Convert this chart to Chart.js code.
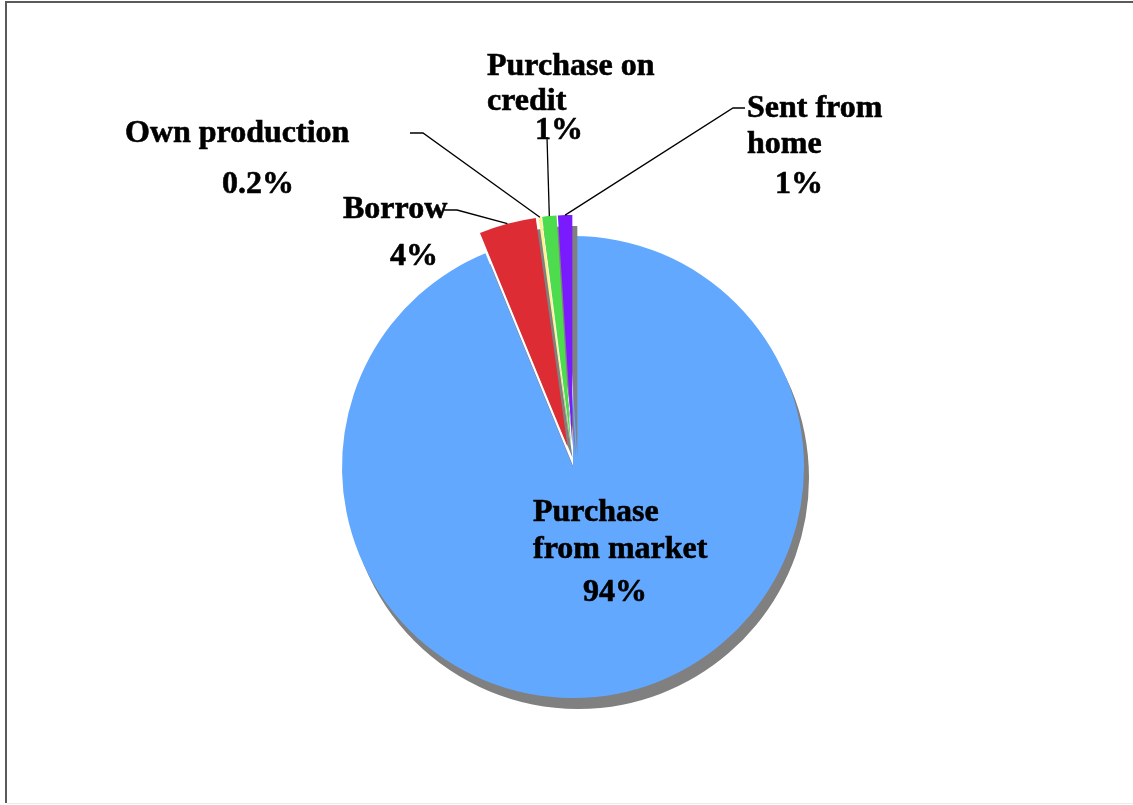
<!DOCTYPE html>
<html>

  <head>
    <meta charset="utf-8">
    <title>Food source</title>
    <script src="https://cdn.jsdelivr.net/npm/chart.js@4.4.1/dist/chart.umd.min.js"></script>
    <style>
      html,
      body {
        margin: 0;
        padding: 0;
        background: #fff;
      }

      canvas {
        display: block;
      }
    </style>
  </head>

  <body>
    <canvas id="myChart" width="1133" height="805"></canvas>

    <script>
      // data
      const categories = ['Purchase from market', 'Borrow', 'Own production', 'Purchase on credit', 'Sent from home'];
      const values = [94, 4, 0.2, 1, 1];
      const pctLabels = ['94%', '4%', '0.2%', '1%', '1%'];

      const colors = ['#63a8ff', '#dd2c33', '#fff28c', '#4ddc4d', '#7a1aff'];
      // how far each slice is pulled out of the pie (px)
      const explode = [0, 21, 21, 21, 21];

      // where the label lines go (left x, baseline y) and the leader line elbows
      const labelLayout = [
        { lines: [['Purchase', 533, 521], ['from market', 533, 558]], pct: [583, 601], leader: null },
        { lines: [['Borrow', 343, 218]], pct: [390, 265], leader: [[443, 210], [457, 210]] },
        { lines: [['Own production', 125, 142]], pct: [222, 193], leader: [[410, 133], [423, 133]] },
        { lines: [['Purchase on', 487, 75], ['credit', 487, 110]], pct: [535, 139], leader: [[547, 137]] },
        { lines: [['Sent from', 747, 117], ['home', 747, 153]], pct: [775, 193], leader: [[745, 108], [733, 108]] },
      ];

      // pull slices out along their bisector
      const explodePlugin = {
        id: 'explode',
        afterDatasetUpdate(chart, args) {
          const meta = args.meta;
          meta.data.forEach((arc, i) => {
            const d = explode[i] || 0;
            if (!d) return;
            const mid = (arc.startAngle + arc.endAngle) / 2;
            arc.x += Math.cos(mid) * d;
            arc.y += Math.sin(mid) * d;
          });
        }
      };

      // gray drop shadow under the slices
      const shadowPlugin = {
        id: 'pieShadow',
        beforeDatasetsDraw(chart) {
          const ctx = chart.ctx;
          ctx.save();
          ctx.shadowColor = '#808080';
          ctx.shadowOffsetX = 5;
          ctx.shadowOffsetY = 11;
          ctx.shadowBlur = 0;
        },
        afterDatasetsDraw(chart) {
          chart.ctx.restore();
        }
      };

      // frame, labels and leader lines
      const labelPlugin = {
        id: 'labels',
        beforeDraw(chart) {
          const ctx = chart.ctx;
          ctx.save();
          ctx.fillStyle = '#5a5a5a';
          ctx.fillRect(5, 1, chart.width - 5, 2);
          ctx.fillRect(5, 1, 2, 802);
          ctx.fillStyle = '#ececec';
          ctx.fillRect(7, 803, chart.width - 7, 1);
          ctx.restore();
        },
        afterDraw(chart) {
          const ctx = chart.ctx;
          const arcs = chart.getDatasetMeta(0).data;
          ctx.save();
          ctx.strokeStyle = '#000';
          ctx.lineWidth = 1.3;
          labelLayout.forEach((lay, i) => {
            if (!lay.leader) return;
            const arc = arcs[i];
            const mid = (arc.startAngle + arc.endAngle) / 2;
            const ex = arc.x + Math.cos(mid) * arc.outerRadius;
            const ey = arc.y + Math.sin(mid) * arc.outerRadius;
            ctx.beginPath();
            ctx.moveTo(lay.leader[0][0], lay.leader[0][1]);
            for (let k = 1; k < lay.leader.length; k++) ctx.lineTo(lay.leader[k][0], lay.leader[k][1]);
            ctx.lineTo(ex, ey);
            ctx.stroke();
          });

          ctx.fillStyle = '#000';
          ctx.strokeStyle = '#000';
          ctx.lineWidth = 0.6;
          ctx.font = 'bold 32px "Liberation Serif", "Times New Roman", serif';
          ctx.textAlign = 'left';
          ctx.textBaseline = 'alphabetic';
          const put = (t, x, y) => { ctx.fillText(t, x, y); ctx.strokeText(t, x, y); };
          labelLayout.forEach((lay, i) => {
            lay.lines.forEach(l => put(l[0], l[1], l[2]));
            put(pctLabels[i], lay.pct[0], lay.pct[1]);
          });
          ctx.restore();
        }
      };

      const myChart = new Chart(document.getElementById('myChart'), {
        type: 'pie',
        data: {
          labels: categories,
          datasets: [{
            data: values,
            backgroundColor: colors,
            borderWidth: 0,
          }]
        },
        plugins: [explodePlugin, shadowPlugin, labelPlugin],
        options: {
          responsive: false,
          animation: false,
          radius: 231,
          layout: {
            padding: { left: 334, right: 321, top: 227, bottom: 98 }
          },
          plugins: {
            legend: { display: false },
            tooltip: { enabled: false },
          },
        },
      });
    </script>

  </body>

</html>
